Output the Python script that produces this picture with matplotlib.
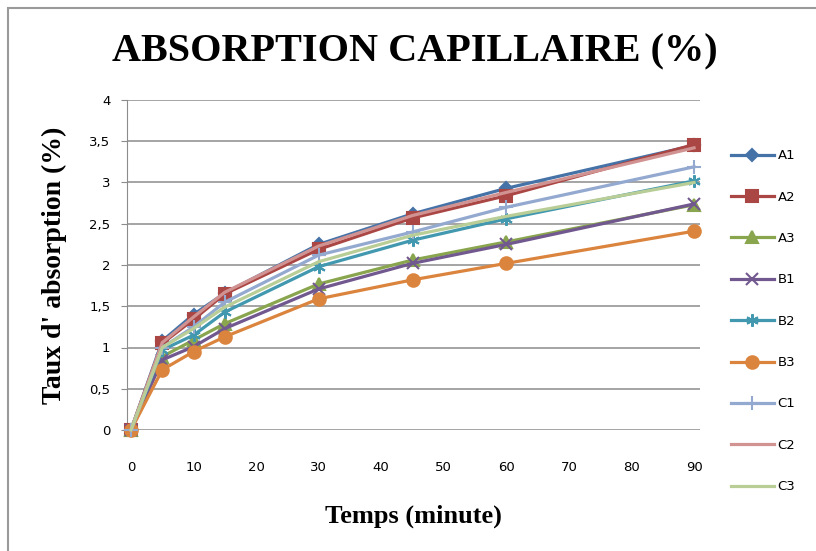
import matplotlib
matplotlib.use("Agg")
import matplotlib.pyplot as plt
from matplotlib.patches import Rectangle

# Temps (minute)
temps = [0, 5, 10, 15, 30, 45, 60, 90]

# Taux d'absorption (%) par série
series_names = ["A1", "A2", "A3", "B1", "B2", "B3", "C1", "C2", "C3"]
a1 = [0, 1.08, 1.40, 1.66, 2.25, 2.62, 2.93, 3.45]
a2 = [0, 1.05, 1.34, 1.65, 2.19, 2.57, 2.84, 3.46]
a3 = [0, 0.89, 1.09, 1.29, 1.77, 2.06, 2.28, 2.73]
b1 = [0, 0.85, 1.01, 1.23, 1.71, 2.02, 2.25, 2.74]
b2 = [0, 0.97, 1.15, 1.43, 1.98, 2.30, 2.56, 3.02]
b3 = [0, 0.73, 0.95, 1.13, 1.59, 1.82, 2.02, 2.41]
c1 = [0, 1.00, 1.25, 1.55, 2.12, 2.40, 2.70, 3.19]
c2 = [0, 1.06, 1.37, 1.67, 2.23, 2.60, 2.88, 3.42]
c3 = [0, 1.00, 1.23, 1.49, 2.04, 2.36, 2.59, 3.00]

values = [a1, a2, a3, b1, b2, b3, c1, c2, c3]
colors = ["#4572A7", "#AA4643", "#89A54E", "#71588F", "#4198AF",
          "#DB843D", "#93A9CF", "#D19392", "#B9CD96"]
markers = ["D", "s", "^", "x", (6, 2, 0), "o", "+", None, None]
msizes = [6, 8, 8, 8, 9, 9, 10, 0, 0]

fig = plt.figure(figsize=(8.16, 5.51), dpi=100)
# cadre du graphique (bord gris en haut et à gauche)
fig.patches.append(Rectangle((8 / 816, -0.1), 1.2, 1.1 - 8 / 551,
                             transform=fig.transFigure, fill=False,
                             edgecolor="#9a9a9a", linewidth=1.5))

ax = fig.add_axes([127 / 816, 1 - 430 / 551, 573 / 816, 330 / 551])

for name, vals, col, mk, ms in zip(series_names, values, colors, markers, msizes):
    ax.plot(temps, vals, color=col, linewidth=2.3, marker=mk, markersize=ms,
            markeredgewidth=1.5, label=name, clip_on=False, zorder=3)

ax.set_xlim(-0.64, 90.95)
ax.set_ylim(0, 4)
ax.set_xticks(range(0, 91, 10))
ax.set_yticks([0, 0.5, 1, 1.5, 2, 2.5, 3, 3.5, 4])
ax.set_yticklabels(["0", "0,5", "1", "1,5", "2", "2,5", "3", "3,5", "4"])
ax.grid(axis="y", color="#8c8c8c", linewidth=1.1)
ax.set_axisbelow(True)
for s in ["top", "right", "bottom"]:
    ax.spines[s].set_visible(False)
ax.spines["left"].set_color("#8c8c8c")
ax.tick_params(axis="y", length=4, color="#8c8c8c", labelsize=9.5, pad=8)
ax.tick_params(axis="x", length=0, labelsize=9.5, pad=22)

ax.set_xlabel("Temps (minute)", family="Liberation Serif", fontweight="bold",
              fontsize=19, labelpad=22)
ax.set_ylabel("Taux d' absorption (%)", family="Liberation Serif", fontweight="bold",
              fontsize=20, labelpad=16)

fig.text(415 / 816, 1 - 52 / 551, "ABSORPTION CAPILLAIRE (%)", ha="center", va="center",
         family="Liberation Serif", fontweight="bold", fontsize=29)

fig.legend(loc="upper left", bbox_to_anchor=(726 / 816, 1 - 144 / 551), frameon=False,
           fontsize=9.5, handlelength=3.2, handletextpad=0.3, labelspacing=2.15,
           borderaxespad=0)

fig.savefig("out.png", dpi=100)
